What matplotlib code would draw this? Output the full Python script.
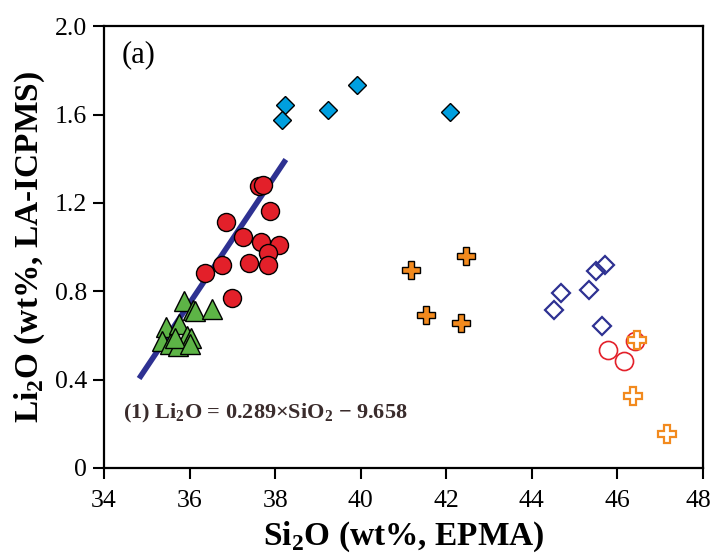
import numpy as np
import matplotlib
matplotlib.use('Agg')
import matplotlib.pyplot as plt
import matplotlib.transforms as mtrans

plt.rcParams['font.family'] = 'Liberation Serif'
plt.rcParams['mathtext.fontset'] = 'custom'
plt.rcParams['mathtext.rm'] = 'Liberation Serif'
plt.rcParams['mathtext.bf'] = 'Liberation Serif:bold'

# filled diamonds (high-Li group)
dia_x = [38.23, 38.16, 39.24, 39.92, 42.09]
dia_y = [1.643, 1.575, 1.620, 1.733, 1.610]

# filled circles
cir_x = [37.63, 37.72, 37.87, 36.85, 37.26, 37.67, 38.08, 37.84, 37.39, 37.84, 36.75, 36.37, 36.99]
cir_y = [1.276, 1.281, 1.163, 1.115, 1.045, 1.024, 1.009, 0.974, 0.929, 0.921, 0.919, 0.884, 0.768]

# filled triangles
tri_x = [35.88, 36.07, 36.13, 36.53, 35.45, 35.76, 35.93, 36.03, 35.35, 35.54, 35.74, 35.66, 36.01]
tri_y = [0.756, 0.714, 0.710, 0.719, 0.638, 0.653, 0.597, 0.587, 0.575, 0.562, 0.552, 0.590, 0.559]

# filled crosses
crs_x = [41.17, 42.46, 41.52, 42.35]
crs_y = [0.894, 0.959, 0.692, 0.658]

# open diamonds
odia_x = [44.51, 44.69, 45.33, 45.49, 45.70, 45.65]
odia_y = [0.714, 0.792, 0.804, 0.891, 0.921, 0.641]

# open circles
ocir_x = [45.79, 46.15, 46.41]
ocir_y = [0.535, 0.484, 0.575]

# open crosses
ocrs_x = [46.47, 46.37, 47.16]
ocrs_y = [0.578, 0.326, 0.155]

# regression (1)
slope = 0.289
intercept = -9.658
fit_range = [34.82, 38.25]

fig = plt.figure(figsize=(7.13, 5.6), dpi=100)
ax = fig.add_axes([0.1459, 0.1643, 0.840, 0.789])

fx = np.array(fit_range)
ax.plot(fx, slope * fx + intercept, color='#2E3192', lw=4, solid_capstyle='butt', zorder=2)

ms = 13
ax.plot(tri_x, tri_y, '^', ms=ms + 1, mfc='#5DB446', mec='black', mew=1.0, ls='none', zorder=3)
ax.plot(cir_x, cir_y, 'o', ms=ms, mfc='#E3202A', mec='black', mew=1.0, ls='none', zorder=4)
ax.plot(dia_x, dia_y, 'D', ms=9.5, mfc='#009FDF', mec='black', mew=1.0, ls='none', zorder=4)
ax.plot(crs_x, crs_y, 'P', ms=ms, mfc='#F28A1E', mec='black', mew=1.0, ls='none', zorder=4)
ax.plot(odia_x, odia_y, 'D', ms=9.5, mfc='none', mec='#2E3192', mew=1.6, ls='none', zorder=4)
ax.plot(ocir_x, ocir_y, 'o', ms=ms, mfc='none', mec='#E3202A', mew=1.2, ls='none', zorder=4)
ax.plot(ocrs_x, ocrs_y, 'P', ms=ms, mfc='white', mec='#F28A1E', mew=1.6, ls='none', zorder=5)

ax.set_xlim(34, 48)
ax.set_ylim(0, 2.0)
ax.set_xticks(np.arange(34, 49, 2))
ax.set_yticks([0, 0.4, 0.8, 1.2, 1.6, 2.0])
ax.set_yticklabels(['0', '0.4', '0.8', '1.2', '1.6', '2.0'])
ax.tick_params(direction='out', length=8, width=1.5, labelsize=18.5)
ax.tick_params(axis='x', pad=8)
ax.tick_params(axis='y', pad=4)
for s in ax.spines.values():
    s.set_linewidth(1.6)

# nudge the last x label so it stays inside the figure
last = ax.get_xticklabels()[-1]
last.set_transform(last.get_transform() + mtrans.ScaledTranslation(-5 / 100, 0, fig.dpi_scale_trans))

ax.set_xlabel(r'Si$_\mathbf{2}$O (wt%, EPMA)', fontsize=24, fontweight='bold', labelpad=5)
ax.set_ylabel(r'Li$_\mathbf{2}$O (wt%, LA-ICPMS)', fontsize=24, fontweight='bold', labelpad=6)

ax.text(0.03, 0.935, '(a)', transform=ax.transAxes, fontsize=22, va='center', ha='left')
ax.text(0.032, 0.124, r'(1) Li$_\mathbf{2}$O = 0.289×SiO$_\mathbf{2}$ − 9.658',
        transform=ax.transAxes, fontsize=16, fontweight='bold', color='#3A2C2C',
        va='center', ha='left')

fig.savefig('out.png', dpi=100)
